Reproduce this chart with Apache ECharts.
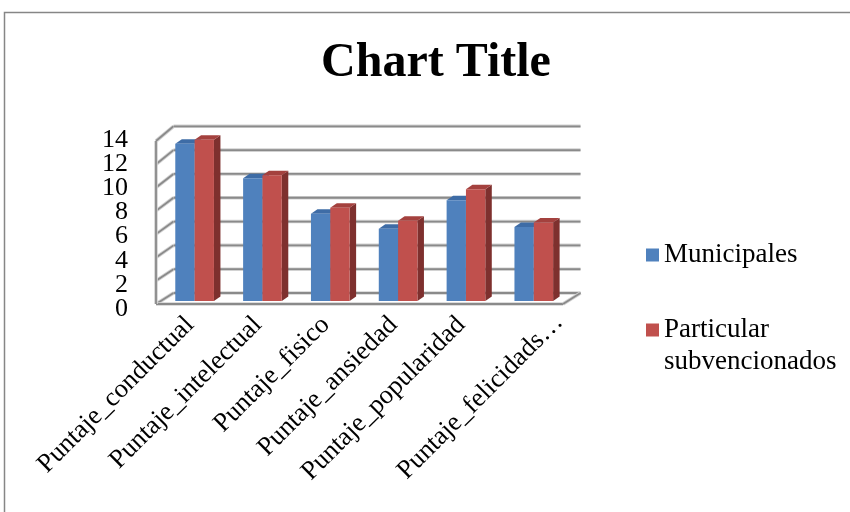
<!DOCTYPE html>
<html>
<head>
<meta charset="utf-8">
<script src="https://cdn.jsdelivr.net/npm/echarts@6/dist/echarts.min.js"></script>
<style>
  html, body { margin: 0; padding: 0; background: #ffffff; }
  #chart { width: 850px; height: 512px; }
</style>
</head>
<body>
<div id="chart"></div>
<script>
// Scores by school type
const categories = ['Puntaje_conductual', 'Puntaje_intelectual', 'Puntaje_fisico', 'Puntaje_ansiedad', 'Puntaje_popularidad', 'Puntaje_felicidads…'];
const municipales = [13.5, 10.55, 7.5, 6.2, 8.65, 6.35];
const particularSubvencionados = [13.85, 10.8, 8.0, 6.9, 9.6, 6.75];
const yTicks = [0, 2, 4, 6, 8, 10, 12, 14];
const seriesNames = ['Municipales', 'Particular subvencionados'];

const FONT = '"Liberation Serif", "Times New Roman", serif';

// pseudo-3D depth of the walls (back plane offset from the front plane)
const WALL_DX = 17.5, WALL_DY = -11, WALL_PERSP = 0.0227;
// bars sit slightly behind the front plane
const BAR_SHIFT_X = 4.7, BAR_SHIFT_Y = -3;
const BAR_DEPTH_X = 6.5, BAR_DEPTH_Y = -4.5;
const BAR_FRACTION = 0.285;

const palette = [
  { front: '#4F81BD', top: '#3E6CA6', side: '#36609A' },
  { front: '#C0504D', top: '#A4413E', side: '#7E302E' }
];

function wallLine(x1, y1, x2, y2) {
  return [
    { type: 'line', shape: { x1, y1, x2, y2 }, style: { stroke: '#d2d2d2', lineWidth: 3.6 } },
    { type: 'line', shape: { x1, y1, x2, y2 }, style: { stroke: '#8a8a8a', lineWidth: 1.8 } }
  ];
}

function renderWall(params, api) {
  const cs = params.coordSys;
  const v = api.value(1);
  const y0 = cs.y + cs.height;
  const y = api.coord([0, v])[1];
  const back = (yy) => yy + WALL_DY - (y0 - yy) * WALL_PERSP;
  const xl = cs.x, xr = cs.x + cs.width;
  let children = [];
  children = children.concat(wallLine(xl, y, xl + WALL_DX, back(y)));
  children = children.concat(wallLine(xl + WALL_DX, back(y), xr + WALL_DX, back(y)));
  if (v === 0) {
    children = children.concat(wallLine(xl, y0, xr, y0));
    children = children.concat(wallLine(xr, y0, xr + WALL_DX, back(y0)));
  }
  if (v === yTicks[yTicks.length - 1]) {
    children = children.concat(wallLine(xl, y0, xl, y));
  }
  return { type: 'group', children };
}

function makeBarRenderer(idx) {
  return function (params, api) {
    const cat = api.value(0);
    const val = api.value(1);
    const c = api.coord([cat, val]);
    const base = api.coord([cat, 0]);
    const bw = api.size([1, 0])[0] * BAR_FRACTION;
    const xl = c[0] + BAR_SHIFT_X + (idx - 1) * bw;
    const xr = xl + bw;
    const yt = c[1] + BAR_SHIFT_Y;
    const yb = base[1] + BAR_SHIFT_Y;
    const col = palette[idx];
    return {
      type: 'group',
      children: [
        { type: 'polygon', shape: { points: [[xr, yt], [xr + BAR_DEPTH_X, yt + BAR_DEPTH_Y], [xr + BAR_DEPTH_X, yb + BAR_DEPTH_Y], [xr, yb]] }, style: { fill: col.side } },
        { type: 'polygon', shape: { points: [[xl, yt], [xr, yt], [xr + BAR_DEPTH_X, yt + BAR_DEPTH_Y], [xl + BAR_DEPTH_X, yt + BAR_DEPTH_Y]] }, style: { fill: col.top } },
        { type: 'rect', shape: { x: xl, y: yt, width: bw, height: yb - yt }, style: { fill: col.front } }
      ]
    };
  };
}

// value-axis labels are split over two axes sharing one rect,
// so neighbouring labels never compete for space
const yLabelsA = yTicks.filter((v, i) => i % 2 === 0);
const yLabelsB = yTicks.filter((v, i) => i % 2 === 1);
const lastCat = categories.length - 1;

function labelAxis(gridIndex, values) {
  return {
    type: 'value', gridIndex, min: 0, max: 14, interval: 2,
    axisLine: { show: false }, axisTick: { show: false }, splitLine: { show: false },
    axisLabel: {
      margin: 28, customValues: values,
      fontFamily: FONT, fontSize: 26, color: '#000000'
    }
  };
}

const catLabelStyle = { interval: 0, rotate: 45, margin: 17, fontFamily: FONT, fontSize: 26.5, color: '#000000' };

const chart = echarts.init(document.getElementById('chart'), null, { renderer: 'canvas' });

chart.setOption({
  animation: false,
  backgroundColor: '#ffffff',
  title: {
    text: 'Chart Title',
    left: 431, textAlign: 'center', top: 35,
    textStyle: { fontFamily: FONT, fontWeight: 'bold', fontSize: 48, color: '#000000' }
  },
  graphic: [{
    type: 'rect', silent: true, z: -10,
    shape: { x: 4.5, y: 12.5, width: 900, height: 600 },
    style: { fill: 'none', stroke: '#868686', lineWidth: 1.5 }
  }],
  legend: [{
    data: [seriesNames[0]],
    orient: 'vertical', left: 646, top: 239, padding: 0,
    icon: 'rect', itemWidth: 13, itemHeight: 13, itemGap: 0,
    textStyle: { fontFamily: FONT, fontSize: 27, color: '#000000', lineHeight: 32 }
  }, {
    data: [seriesNames[1]],
    orient: 'vertical', left: 646, top: 282, padding: 0,
    icon: 'rect', itemWidth: 13, itemHeight: 13, itemGap: 0,
    // first line kept empty so the swatch lines up with "Particular"
    formatter: () => '\nParticular\nsubvencionados',
    textStyle: { fontFamily: FONT, fontSize: 27, color: '#000000', lineHeight: 32 }
  }],
  grid: [
    { left: 156, top: 141, width: 407, height: 163 },
    { left: 156, top: 140, width: 407, height: 169 },
    { left: 156, top: 140, width: 407, height: 169 },
    // the truncated last label is set a little further right
    { left: 186, top: 138, width: 407, height: 163 }
  ],
  xAxis: [{
    type: 'category', data: categories, gridIndex: 0,
    axisLine: { show: false }, axisTick: { show: false },
    axisLabel: Object.assign({}, catLabelStyle, {
      formatter: (value, index) => (index === lastCat ? '' : value)
    })
  }, {
    type: 'category', data: categories, gridIndex: 1, show: false
  }, {
    type: 'category', data: categories, gridIndex: 2, show: false
  }, {
    type: 'category', data: categories, gridIndex: 3,
    axisLine: { show: false }, axisTick: { show: false },
    axisLabel: Object.assign({}, catLabelStyle, {
      formatter: (value, index) => (index === lastCat ? value : '')
    })
  }],
  yAxis: [{
    type: 'value', gridIndex: 0, min: 0, max: 14, interval: 2,
    axisLine: { show: false }, axisTick: { show: false }, splitLine: { show: false },
    axisLabel: { show: false }
  }, labelAxis(1, yLabelsA), labelAxis(2, yLabelsB), {
    type: 'value', gridIndex: 3, min: 0, max: 14, interval: 2, show: false
  }],
  series: [
    {
      type: 'custom', name: 'walls', xAxisIndex: 0, yAxisIndex: 0, z: 1, silent: true,
      renderItem: renderWall,
      data: yTicks.map(v => [0, v])
    },
    {
      type: 'custom', name: seriesNames[0], xAxisIndex: 0, yAxisIndex: 0, z: 2,
      itemStyle: { color: palette[0].front },
      renderItem: makeBarRenderer(0),
      data: municipales.map((v, i) => [i, v])
    },
    {
      type: 'custom', name: seriesNames[1], xAxisIndex: 0, yAxisIndex: 0, z: 3,
      itemStyle: { color: palette[1].front },
      renderItem: makeBarRenderer(1),
      data: particularSubvencionados.map((v, i) => [i, v])
    }
  ]
});
</script>
</body>
</html>
